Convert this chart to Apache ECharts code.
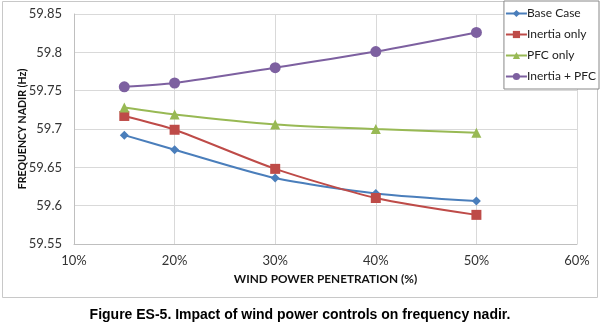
<!DOCTYPE html>
<html><head><meta charset="utf-8">
<script src="https://cdn.jsdelivr.net/npm/echarts@6/dist/echarts.min.js"></script>
<style>html,body{margin:0;padding:0;background:#fff}#c{width:600px;height:331px}</style>
</head><body><div id="c"></div>
<script>
const penetration = [15, 20, 30, 40, 50];
const baseCase = [59.692, 59.673, 59.636, 59.616, 59.606];
const inertiaOnly = [59.717, 59.699, 59.648, 59.610, 59.588];
const pfcOnly = [59.728, 59.719, 59.706, 59.700, 59.695];
const inertiaPfc = [59.755, 59.760, 59.780, 59.801, 59.826];
const seriesNames = ['Base Case', 'Inertia only', 'PFC only', 'Inertia + PFC'];
const xLabel = 'WIND POWER PENETRATION (%)';
const yLabel = 'FREQUENCY NADIR (Hz)';
const caption = 'Figure ES-5. Impact of wind power controls on frequency nadir.';

const colors = ['#4a7ebb', '#be4b48', '#98b954', '#7d60a0'];
const symbols = ['diamond', 'rect', 'triangle', 'circle'];
const sizes = [9, 10, 10, 11];
const allData = [baseCase, inertiaOnly, pfcOnly, inertiaPfc];
const font = 'Lato, Open Sans, sans-serif';

const chart = echarts.init(document.getElementById('c'));
chart.setOption({
  animation: false,
  backgroundColor: '#fff',
  grid: {left: 74, right: 23, top: 14, bottom: 87, containLabel: false},
  legend: {
    data: seriesNames,
    orient: 'vertical', right: 1, top: 1,
    backgroundColor: '#fff', borderColor: '#888', borderWidth: 1,
    padding: [5, 3, 5, 1], itemGap: 6, itemWidth: 21, itemHeight: 9,
    textStyle: {fontFamily: font, fontSize: 12, color: '#222', padding: [0, 0, 0, -5], lineHeight: 15}
  },
  xAxis: {
    type: 'value', min: 10, max: 60, interval: 10,
    name: xLabel, nameLocation: 'middle', nameGap: 29, nameMoveOverlap: false,
    nameTextStyle: {fontFamily: font, fontSize: 11.8, fontWeight: 'bold', color: '#111'},
    axisLine: {lineStyle: {color: '#bfbfbf'}},
    axisTick: {show: false},
    axisLabel: {fontFamily: font, fontSize: 13, color: '#333', margin: 10, formatter: v => v + '%'},
    splitLine: {show: true, lineStyle: {color: '#d9d9d9'}}
  },
  yAxis: {
    type: 'value', min: 59.55, max: 59.85, interval: 0.05,
    name: yLabel, nameLocation: 'middle', nameGap: 46, nameRotate: 90, nameMoveOverlap: false,
    nameTextStyle: {fontFamily: font, fontSize: 10.6, fontWeight: 'bold', color: '#111'},
    axisLine: {show: true, lineStyle: {color: '#bfbfbf'}},
    axisTick: {show: false},
    axisLabel: {fontFamily: font, fontSize: 13, color: '#333', margin: 12, formatter: v => String(parseFloat(v.toFixed(2)))},
    splitLine: {show: true, lineStyle: {color: '#d9d9d9'}}
  },
  series: allData.map((d, i) => ({
    name: seriesNames[i], type: 'line', smooth: 0.25,
    data: penetration.map((x, j) => [x, d[j]]),
    symbol: symbols[i], symbolSize: sizes[i],
    lineStyle: {color: colors[i], width: 2},
    itemStyle: {color: colors[i]}
  })),
  graphic: [
    {type: 'rect', shape: {x: 2.5, y: 1.5, width: 595, height: 296}, style: {fill: 'none', stroke: '#c8c8c8', lineWidth: 1}, z: -1},
    {type: 'text', left: 'center', top: 308, style: {text: caption, font: 'bold 14px Liberation Sans, Arial, sans-serif', fill: '#000'}}
  ]
});
</script></body></html>
